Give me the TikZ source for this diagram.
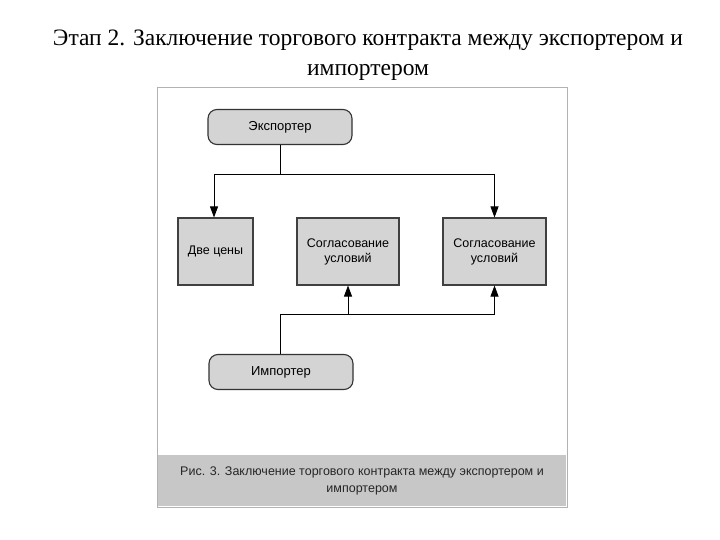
\documentclass[tikz,border=0pt]{standalone}
\usepackage{fontspec}
\setmainfont{Liberation Serif}
\newfontfamily\sansf{Liberation Sans}
\usetikzlibrary{arrows.meta}
\begin{document}
\begin{tikzpicture}[x=1pt,y=-1pt,
  term/.style={draw=black!80,line width=1.1pt,fill=black!17,rounded corners=9pt,minimum width=144pt,minimum height=35pt,font=\sansf\fontsize{13}{15}\selectfont},
  box/.style={draw=black!75,line width=1.1pt,fill=black!17,minimum height=67pt,align=center,inner sep=1pt,font=\sansf\fontsize{12.5}{15}\selectfont},
  arr/.style={-{Triangle[length=11pt,width=8pt]},line width=0.8pt}]
\useasboundingbox (0,0) rectangle (720,540);
\node[font=\fontsize{23.5}{30}\selectfont,align=center] (t) at (368,55) {Этап 2. Заключение торгового контракта между экспортером и\\импортером};
\draw[black!30,line width=1pt,fill=white] (157,88) rectangle (567,507);
\fill[black!22] (158,455) rectangle (566,506);
\node[font=\sansf\fontsize{12.5}{17}\selectfont,align=center,text=black!85] (cap) at (362,481) {Рис. 3. Заключение торгового контракта между экспортером и\\импортером};
\node[term] (exp) at (280,127) {Экспортер};
\node[term] (imp) at (281,372) {Импортер};
\node[box,minimum width=75pt] (b1) at (215.5,251.5) {Две цены};
\node[box,minimum width=102pt] (b2) at (348,251.5) {Согласование\\условий};
\node[box,minimum width=103pt] (b3) at (494.5,251.5) {Согласование\\условий};
\coordinate (j1) at (280,174);
\coordinate (j2) at (280,314);
\draw[line width=0.8pt] (exp.south) -- (j1);
\draw[arr] (j1) -| (b1.north -| 214,0);
\draw[arr] (j1) -| (b3.north);
\draw[line width=0.8pt] (imp.north -| j2) -- (j2);
\draw[arr] (j2) -| (b2.south);
\draw[arr] (j2) -| (b3.south);
\end{tikzpicture}
\end{document}
